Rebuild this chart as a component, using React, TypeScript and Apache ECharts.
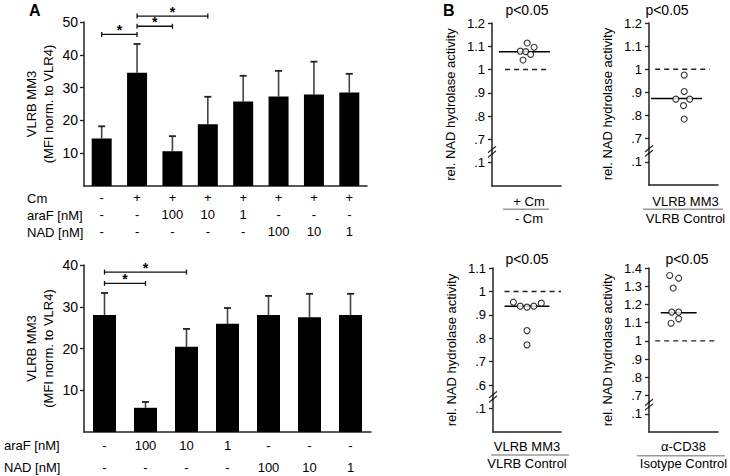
import React, { useEffect, useRef } from "react";
import * as echarts from "echarts";

const FONT = '"Liberation Sans", Arial, Helvetica, sans-serif';

// ---------- Panel A, top ----------
const topCm = ["-", "+", "+", "+", "+", "+", "+", "+"];
const topAraF = ["-", "-", "100", "10", "1", "-", "-", "-"];
const topNAD = ["-", "-", "-", "-", "-", "100", "10", "1"];
const topMean = [14.5, 34.5, 10.6, 18.8, 25.8, 27.3, 27.9, 28.5];
const topErrTop = [18.2, 43.3, 15.2, 27.2, 33.6, 35.1, 37.9, 34.2];
const topSig = [
  [0, 1, 46.2],
  [1, 2, 48.7],
  [1, 3, 51.8],
];
const topYTicks = [10, 20, 30, 40, 50];

// ---------- Panel A, bottom ----------
const botAraF = ["-", "100", "10", "1", "-", "-", "-"];
const botNAD = ["-", "-", "-", "-", "100", "10", "1"];
const botMean = [28.0, 5.8, 20.4, 25.9, 28.0, 27.5, 28.0];
const botErrTop = [33.3, 7.2, 24.7, 29.7, 32.6, 33.1, 33.1];
const botSig = [
  [0, 1, 35.6],
  [0, 2, 38.3],
];
const botYTicks = [10, 20, 30, 40];

// ---------- Panel B (jitter x in 0..100, value y) ----------
const b1X = [51, 61, 41, 49, 56, 45];
const b1Y = [1.114, 1.096, 1.079, 1.077, 1.065, 1.041];
const b1Median = 1.076;
const b2X = [51, 51, 39, 59, 50, 51];
const b2Y = [0.975, 0.904, 0.871, 0.871, 0.843, 0.785];
const b2Median = 0.874;
const b3X = [30, 40, 50, 60, 71, 50, 50];
const b3Y = [0.954, 0.937, 0.933, 0.937, 0.95, 0.833, 0.772];
const b3Median = 0.937;
const b4X = [30, 43, 35, 33, 43, 43, 32];
const b4Y = [1.359, 1.344, 1.29, 1.158, 1.158, 1.121, 1.097];
const b4Median = 1.155;

const bTicks1 = [0.6, 0.7, 0.8, 0.9, 1.0, 1.1, 1.2];
const bTicks3 = [0.5, 0.6, 0.7, 0.8, 0.9, 1.0, 1.1];
const bTicks4 = [0.6, 0.7, 0.8, 0.9, 1.0, 1.1, 1.2, 1.3, 1.4];

const bPanels = [
  {
    grid: { left: 492, top: 23, width: 69, height: 163 },
    min: 0.5, max: 1.2, ticks: bTicks1, breakAt: 0.6, breakMark: 0.647,
    xs: b1X, ys: b1Y, med: b1Median, medX: [10, 84], dashX: [19, 84],
    p: [527, 10], t1: "+ Cm", t2: "- Cm", cx: 529, y1: 201.5, ly: 209.3, lx: [503, 549], y2: 218.3,
  },
  {
    grid: { left: 649, top: 23, width: 69, height: 162 },
    min: 0.5, max: 1.2, ticks: bTicks1, breakAt: 0.6, breakMark: 0.647,
    xs: b2X, ys: b2Y, med: b2Median, medX: [3, 77], dashX: [9, 88],
    p: [667, 10], t1: "VLRB MM3", t2: "VLRB Control", cx: 685.5, y1: 201.5, ly: 209.3, lx: [643, 723], y2: 218.3,
  },
  {
    grid: { left: 493, top: 268, width: 68, height: 164 },
    min: 0.4, max: 1.1, ticks: bTicks3, breakAt: 0.5, breakMark: 0.55,
    xs: b3X, ys: b3Y, med: b3Median, medX: [17, 83], dashX: [17, 100],
    p: [527, 259], t1: "VLRB MM3", t2: "VLRB Control", cx: 527, y1: 446, ly: 455, lx: [491, 569], y2: 463.5,
  },
  {
    grid: { left: 649, top: 268, width: 69, height: 164 },
    min: 0.5, max: 1.4, ticks: bTicks4, breakAt: 0.6, breakMark: 0.65,
    xs: b4X, ys: b4Y, med: b4Median, medX: [17, 69], dashX: [9, 100],
    p: [687, 259], t1: "\u03b1-CD38", t2: "Isotype Control", cx: 683.5, y1: 446.5, ly: 455.7, lx: [637, 725], y2: 463.5,
  },
];

const AXIS_COLOR = "#222";

function fmtB(breakAt: number) {
  return (v: number) => {
    const r = Math.round(v * 10) / 10;
    if (Math.abs(r - breakAt) < 1e-6) return ".1";
    if (r >= 1) return Math.abs(r - 1) < 1e-6 ? "1" : r.toFixed(1);
    return "." + Math.round(r * 10);
  };
}

function errorBarSeries(xi: number, mean: number[], top: number[]) {
  return {
    type: "custom",
    xAxisIndex: xi,
    yAxisIndex: xi,
    z: 1,
    silent: true,
    data: mean.map((m, i) => [i, m, top[i]]),
    renderItem: (params: any, api: any) => {
      const x = api.value(0);
      const lo = api.coord([x, api.value(1)]);
      const hi = api.coord([x, api.value(2)]);
      const cap = 3.5;
      return {
        type: "group",
        children: [
          { type: "line", shape: { x1: lo[0], y1: lo[1], x2: hi[0], y2: hi[1] }, style: { stroke: "#444", lineWidth: 1.6 } },
          { type: "line", shape: { x1: hi[0] - cap, y1: hi[1], x2: hi[0] + cap, y2: hi[1] }, style: { stroke: "#222", lineWidth: 1.8 } },
        ],
      };
    },
  };
}

function sigSeries(xi: number, sig: number[][]) {
  return {
    type: "custom",
    xAxisIndex: xi,
    yAxisIndex: xi,
    z: 5,
    silent: true,
    clip: false,
    data: sig,
    renderItem: (params: any, api: any) => {
      const a = api.coord([api.value(0), api.value(2)]);
      const b = api.coord([api.value(1), api.value(2)]);
      const y = a[1];
      const h = 2.5;
      return {
        type: "group",
        children: [
          { type: "line", shape: { x1: a[0], y1: y, x2: b[0], y2: y }, style: { stroke: "#111", lineWidth: 1.3 } },
          { type: "line", shape: { x1: a[0], y1: y - h, x2: a[0], y2: y + h }, style: { stroke: "#111", lineWidth: 1.3 } },
          { type: "line", shape: { x1: b[0], y1: y - h, x2: b[0], y2: y + h }, style: { stroke: "#111", lineWidth: 1.3 } },
          {
            type: "text",
            x: (a[0] + b[0]) / 2,
            y: y + 3,
            style: {
              text: "*",
              fontSize: 14,
              fontWeight: "bold",
              fontFamily: FONT,
              fill: "#000",
              align: "center",
              verticalAlign: "bottom",
            },
          },
        ],
      };
    },
  };
}

function buildOption() {
  const grids: any[] = [
    { left: 84, top: 22, width: 283, height: 164 },
    { left: 84, top: 265, width: 287, height: 167 },
    ...bPanels.map((p) => p.grid),
  ].map((g) => ({ ...g, containLabel: false, outerBoundsMode: "none" }));

  const xAxes: any[] = [
    {
      type: "category",
      gridIndex: 0,
      data: topMean.map((_, i) => String(i)),
      axisLine: { lineStyle: { color: AXIS_COLOR, width: 1.5 } },
      axisTick: { show: false },
      axisLabel: {
        interval: 0,
        margin: 2.5,
        fontSize: 13,
        lineHeight: 17,
        fontFamily: FONT,
        color: "#000",
        formatter: (_: string, i: number) => `${topCm[i]}\n${topAraF[i]}\n${topNAD[i]}`,
      },
    },
    {
      type: "category",
      gridIndex: 1,
      data: botMean.map((_, i) => String(i)),
      axisLine: { lineStyle: { color: AXIS_COLOR, width: 1.5 } },
      axisTick: { show: false },
      axisLabel: {
        interval: 0,
        margin: 2,
        fontSize: 13,
        lineHeight: 22,
        fontFamily: FONT,
        color: "#000",
        formatter: (_: string, i: number) => `${botAraF[i]}\n${botNAD[i]}`,
      },
    },
    ...bPanels.map((p, k) => ({
      type: "value",
      gridIndex: k + 2,
      min: 0,
      max: 100,
      axisLine: { show: true, onZero: false, lineStyle: { color: AXIS_COLOR, width: 1.5 } },
      axisTick: { show: false },
      axisLabel: { show: false },
      splitLine: { show: false },
    })),
  ];

  const aName = {
    name: "VLRB MM3\n(MFI norm. to VLR4)",
    nameLocation: "middle",
    nameRotate: 90,
    nameGap: 27,
    nameTextStyle: { fontSize: 13, lineHeight: 17, fontFamily: FONT, color: "#000" },
  };

  const yAxes: any[] = [
    {
      type: "value",
      gridIndex: 0,
      min: 0,
      max: 50,
      interval: 10,
      ...aName,
      axisLine: { show: true, lineStyle: { color: AXIS_COLOR, width: 1.5 } },
      axisTick: { show: true, length: 4, customValues: topYTicks, lineStyle: { color: AXIS_COLOR, width: 1.3 } },
      axisLabel: { customValues: topYTicks, margin: 6, fontSize: 14, fontFamily: FONT, color: "#000" },
      splitLine: { show: false },
    },
    {
      type: "value",
      gridIndex: 1,
      min: 0,
      max: 40,
      interval: 10,
      ...aName,
      axisLine: { show: true, lineStyle: { color: AXIS_COLOR, width: 1.5 } },
      axisTick: { show: true, length: 4, customValues: botYTicks, lineStyle: { color: AXIS_COLOR, width: 1.3 } },
      axisLabel: { customValues: botYTicks, margin: 6, fontSize: 14, fontFamily: FONT, color: "#000" },
      splitLine: { show: false },
    },
    ...bPanels.map((p, k) => ({
      type: "value",
      gridIndex: k + 2,
      min: p.min,
      max: p.max,
      name: "rel. NAD hydrolase activity",
      nameLocation: "middle",
      nameRotate: 90,
      nameGap: 35,
      nameTextStyle: { fontSize: 13, fontFamily: FONT, color: "#000" },
      axisLine: { show: true, onZero: false, lineStyle: { color: AXIS_COLOR, width: 1.5 } },
      axisTick: { show: true, length: 4, customValues: p.ticks, lineStyle: { color: AXIS_COLOR, width: 1.3 } },
      axisLabel: { customValues: p.ticks, margin: 7, fontSize: 13, fontFamily: FONT, color: "#000", formatter: fmtB(p.breakAt) },
      splitLine: { show: false },
    })),
  ];

  const series: any[] = [
    { type: "bar", xAxisIndex: 0, yAxisIndex: 0, data: topMean, barWidth: 20, itemStyle: { color: "#000" }, z: 3, silent: true },
    errorBarSeries(0, topMean, topErrTop),
    sigSeries(0, topSig),
    { type: "bar", xAxisIndex: 1, yAxisIndex: 1, data: botMean, barWidth: 23, itemStyle: { color: "#000" }, z: 3, silent: true },
    errorBarSeries(1, botMean, botErrTop),
    sigSeries(1, botSig),
  ];

  bPanels.forEach((p, k) => {
    const gi = k + 2;
    series.push({
      type: "line",
      xAxisIndex: gi,
      yAxisIndex: gi,
      symbol: "none",
      silent: true,
      z: 2,
      lineStyle: { color: "#222", width: 1.4, type: [5, 4] },
      data: [
        [p.dashX[0], 1],
        [p.dashX[1], 1],
      ],
    });
    series.push({
      type: "line",
      xAxisIndex: gi,
      yAxisIndex: gi,
      symbol: "none",
      silent: true,
      z: 3,
      lineStyle: { color: "#000", width: 1.5 },
      data: [
        [p.medX[0], p.med],
        [p.medX[1], p.med],
      ],
    });
    series.push({
      type: "scatter",
      xAxisIndex: gi,
      yAxisIndex: gi,
      symbol: "circle",
      symbolSize: 6,
      silent: true,
      z: 4,
      itemStyle: { color: "#fff", borderColor: "#000", borderWidth: 1.1 },
      data: p.xs.map((x, i) => [x, p.ys[i]]),
    });
    series.push({
      type: "scatter",
      xAxisIndex: gi,
      yAxisIndex: gi,
      symbol: "path://M0,7 L10,0 M0,12 L10,5",
      symbolSize: [8, 11],
      clip: false,
      silent: true,
      z: 6,
      itemStyle: { color: "none", borderColor: "#000", borderWidth: 1.2 },
      data: [[0, p.breakMark]],
    });
  });

  const txt = (text: string, x: number, y: number, extra: any = {}) => ({
    type: "text",
    x,
    y,
    silent: true,
    style: {
      text,
      fontSize: 13,
      fontFamily: FONT,
      fill: "#000",
      align: "center",
      verticalAlign: "middle",
      ...extra,
    },
  });

  const graphics: any[] = [
    txt("A", 29, 10, { align: "left", fontSize: 16, fontWeight: "bold" }),
    txt("B", 443, 10, { align: "left", fontSize: 16, fontWeight: "bold" }),
    txt("Cm", 27, 198, { align: "left" }),
    txt("araF [nM]", 27, 215, { align: "left" }),
    txt("NAD [nM]", 27, 232, { align: "left" }),
    txt("araF [nM]", 4, 445, { align: "left" }),
    txt("NAD [nM]", 4, 467, { align: "left" }),
  ];
  bPanels.forEach((p) => {
    graphics.push(txt("p<0.05", p.p[0], p.p[1], { fontSize: 14 }));
    graphics.push(txt(p.t1, p.cx, p.y1, { fontSize: 13 }));
    graphics.push(txt(p.t2, p.cx, p.y2, { fontSize: 13 }));
    graphics.push({
      type: "line",
      silent: true,
      shape: { x1: p.lx[0], y1: p.ly, x2: p.lx[1], y2: p.ly },
      style: { stroke: "#9a9a9a", lineWidth: 1.5 },
    });
  });

  return {
    animation: false,
    backgroundColor: "#fff",
    textStyle: { fontFamily: FONT },
    grid: grids,
    xAxis: xAxes,
    yAxis: yAxes,
    series,
    graphic: graphics,
  };
}

export default function App() {
  const ref = useRef<HTMLDivElement>(null);
  useEffect(() => {
    const chart = echarts.init(ref.current!, null, { renderer: "svg" });
    chart.setOption(buildOption() as any);
    return () => chart.dispose();
  }, []);
  return (
    <div
      ref={ref}
      style={{ position: "fixed", left: 0, top: 0, width: 730, height: 476, background: "#fff" }}
    />
  );
}
